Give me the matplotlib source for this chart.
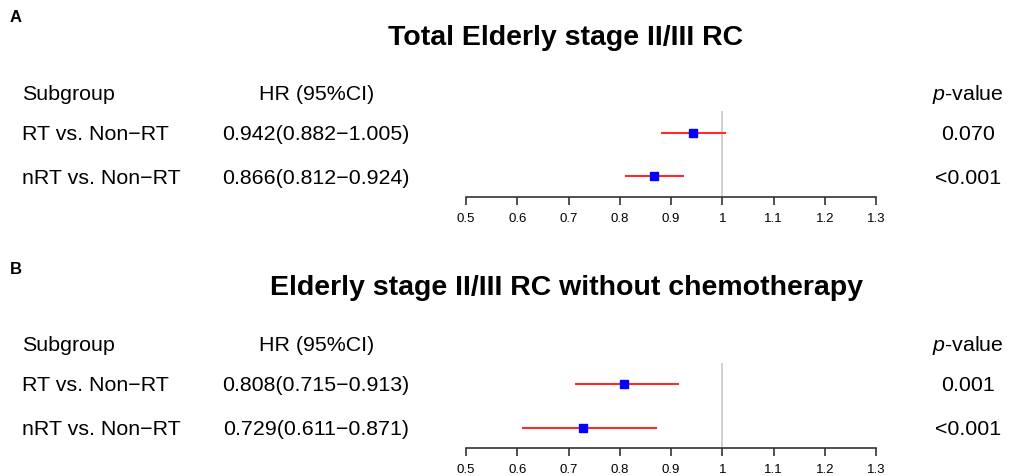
import matplotlib.pyplot as plt

plt.rcParams['font.family'] = ['Liberation Sans', 'DejaVu Sans']
plt.rcParams['mathtext.fontset'] = 'custom'
plt.rcParams['mathtext.it'] = 'Liberation Sans:italic'
plt.rcParams['mathtext.rm'] = 'Liberation Sans'

W, H = 1010, 477

titles = ["Total Elderly stage II/III RC", "Elderly stage II/III RC without chemotherapy"]
panel_letters = ["A", "B"]
subgroups = ["RT vs. Non\u2212RT", "nRT vs. Non\u2212RT"]
hr_a = [0.942, 0.866]
lo_a = [0.882, 0.812]
hi_a = [1.005, 0.924]
p_a = ["0.070", "<0.001"]
hr_b = [0.808, 0.729]
lo_b = [0.715, 0.611]
hi_b = [0.913, 0.871]
p_b = ["0.001", "<0.001"]
xticks = [0.5, 0.6, 0.7, 0.8, 0.9, 1, 1.1, 1.2, 1.3]
xticklabels = ["0.5", "0.6", "0.7", "0.8", "0.9", "1", "1.1", "1.2", "1.3"]

# pixel layout of each panel: letter y, title y, header y, row ys, axis y, top of ref line
panels = [
    dict(letter=18, title=38, header=94, rows=[135, 178], axis=198, top=112),
    dict(letter=270, title=288, header=346, rows=[386, 430], axis=449, top=364),
]
data = [(hr_a, lo_a, hi_a, p_a), (hr_b, lo_b, hi_b, p_b)]

fig = plt.figure(figsize=(W / 100, H / 100), dpi=100)


def ftext(x, y, s, **kw):
    fig.text(x / W, 1 - y / H, s, **kw)


fs = 15.4
x0, x1 = 466, 876
for lay, (hr, lo, hi, pv), title, letter in zip(panels, data, titles, panel_letters):
    ftext(10, lay['letter'], letter, fontsize=12, fontweight='bold', va='center')
    ftext(566, lay['title'], title, fontsize=20.5, fontweight='bold', ha='center', va='center')
    ftext(22, lay['header'], "Subgroup", fontsize=fs, va='center')
    ftext(317, lay['header'], "HR (95%CI)", fontsize=fs, ha='center', va='center')
    ftext(968, lay['header'], "$p$-value", fontsize=fs, ha='center', va='center')
    for y, name, h, l, u, p in zip(lay['rows'], subgroups, hr, lo, hi, pv):
        ftext(22, y, name, fontsize=fs, va='center')
        ftext(316, y, f"{h:.3f}({l:.3f}\u2212{u:.3f})", fontsize=fs, ha='center', va='center')
        ftext(968, y, p, fontsize=fs, ha='center', va='center')

    # forest axes (rows at y=2 and y=1)
    r1, r2 = lay['rows']
    r1, r2 = r1 - 1, r2 - 1
    unit = r2 - r1
    ylo = 1 - (lay['axis'] - r2) / unit
    yhi = 2 + (r1 - lay['top']) / unit
    ax = fig.add_axes([x0 / W, 1 - lay['axis'] / H, (x1 - x0) / W, (lay['axis'] - lay['top']) / H])
    ax.set_xlim(0.5, 1.3)
    ax.set_ylim(ylo, yhi)
    ax.axvline(1, color='#c8c8c8', lw=1.2, zorder=1)
    ys = [2, 1]
    for y, h, l, u in zip(ys, hr, lo, hi):
        ax.plot([l, u], [y, y], color='#ff2a2a', lw=1.5, zorder=2)
        ax.plot(h, y, 's', color='#0000ff', markersize=5.5, zorder=3)
    for s in ['top', 'right', 'left']:
        ax.spines[s].set_visible(False)
    ax.spines['bottom'].set_color('#333333')
    ax.spines['bottom'].set_linewidth(1.2)
    ax.set_yticks([])
    ax.set_xticks(xticks)
    ax.set_xticklabels(xticklabels)
    ax.tick_params(axis='x', direction='out', length=6, width=1.2, color='#333333',
                   labelsize=9.5, pad=5)
    ax.patch.set_alpha(0)

fig.savefig("out.png", dpi=100)
